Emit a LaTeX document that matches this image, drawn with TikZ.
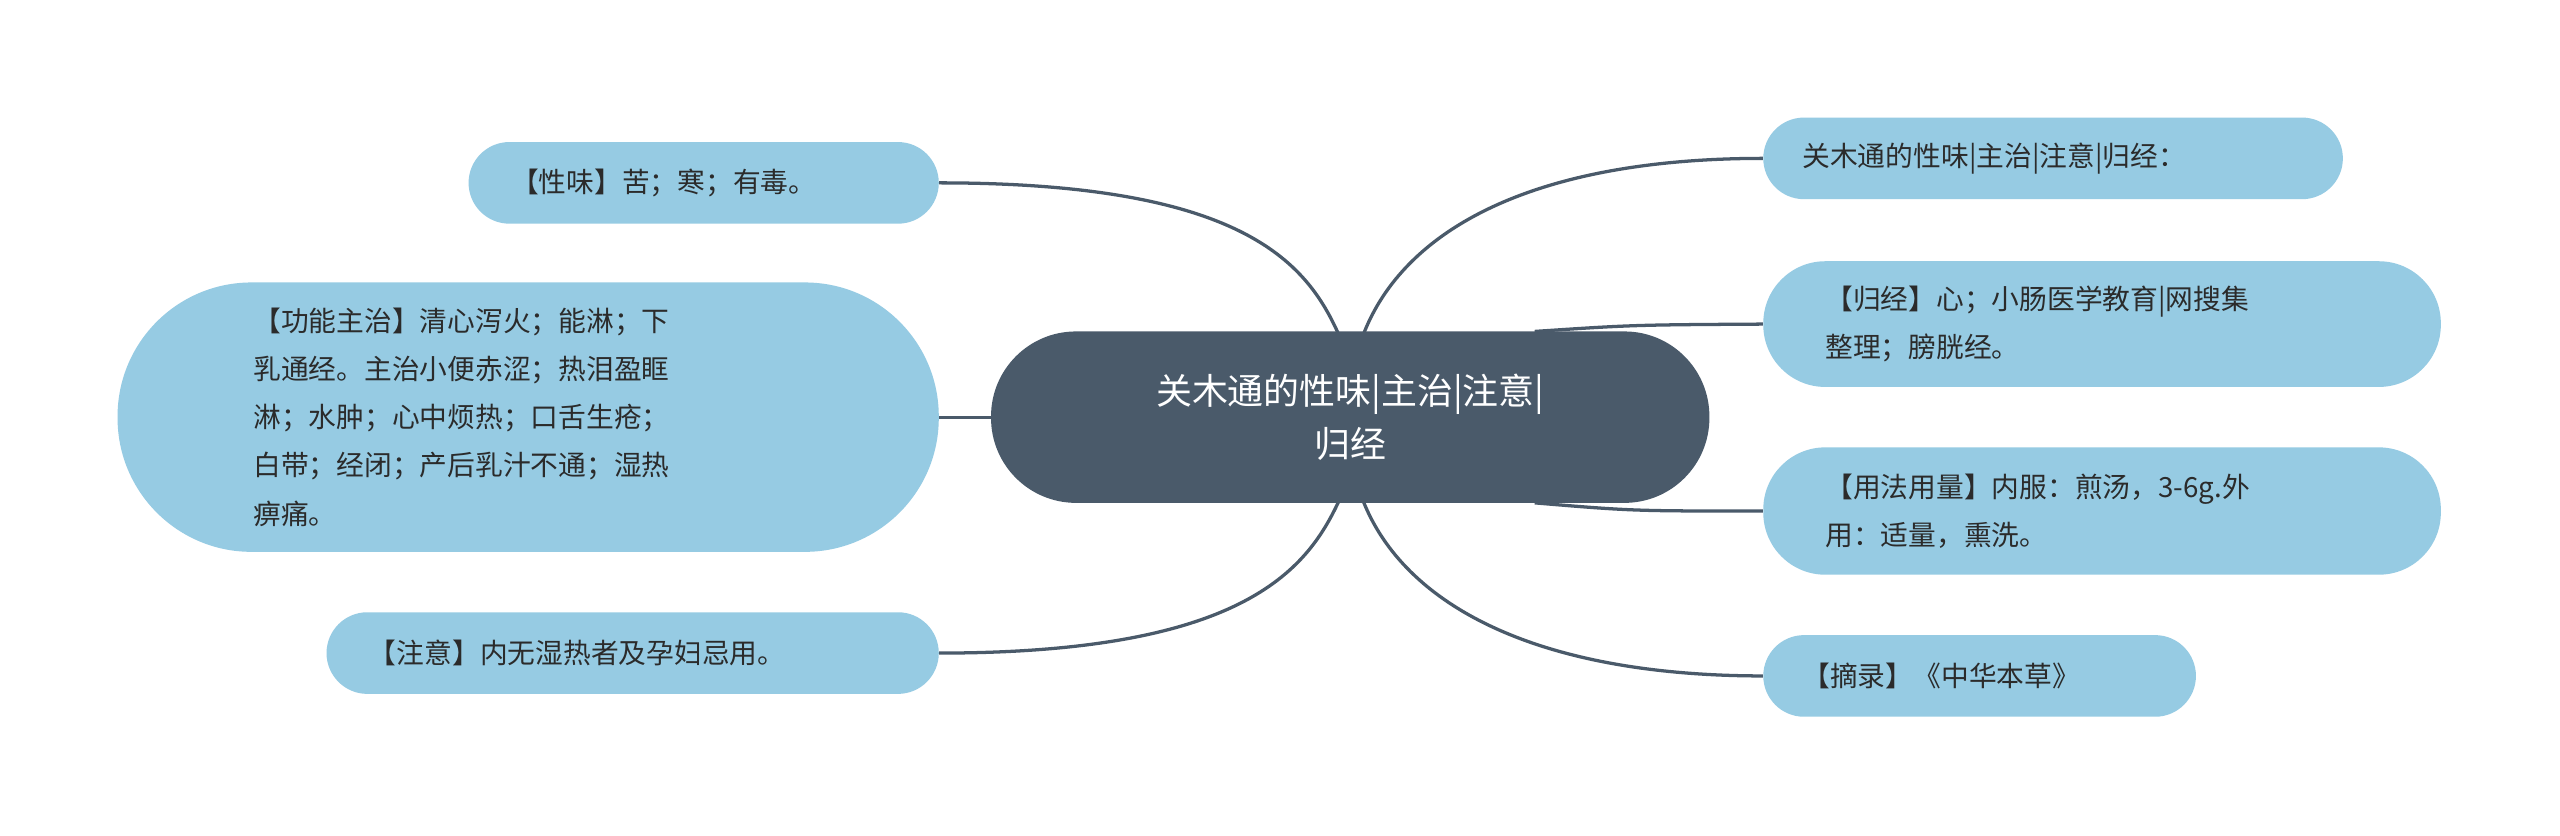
\documentclass[tikz,border=0pt]{standalone}
\usepackage{fontspec}
\setmainfont{Noto Sans CJK SC}
\definecolor{dark}{HTML}{4A5A6A}
\definecolor{leaf}{HTML}{96CBE3}
\definecolor{txt}{HTML}{2B2B2B}
\begin{document}
\begin{tikzpicture}[x=1pt,y=-1pt,
  box/.style={fill=leaf,draw=none,inner sep=0pt},
  lbl/.style={anchor=west,inner sep=0pt,text=txt,font=\fontsize{17}{29.5}\selectfont,align=left},
  link/.style={draw=dark,line width=2pt}]
\useasboundingbox[fill=white] (0,0) rectangle (1568,512);
% center
\node[fill=dark,rounded corners=52pt,minimum width=440pt,minimum height=105pt,inner sep=0pt,text=white,align=center,font=\fontsize{22}{32}\selectfont] (c) at (827,255.5) {关木通的性味|主治|注意|\\归经};
\coordinate (ct1) at (820,205); \coordinate (ct2) at (835,205);
\coordinate (cb1) at (820,307); \coordinate (cb2) at (835,307);
\coordinate (cr1) at (940,203); \coordinate (cr2) at (940,308);
% left
\node[box,rounded corners=25pt,minimum width=288pt,minimum height=50pt] (l1) at (431,112) {};
\node[lbl] at (l1.west) [xshift=26pt] {【性味】苦；寒；有毒。};
\node[box,rounded corners=82pt,minimum width=503pt,minimum height=165pt] (l2) at (323.5,255.5) {};
\node[lbl] at (155,255.5) {【功能主治】清心泻火；能淋；下\\乳通经。主治小便赤涩；热泪盈眶\\淋；水肿；心中烦热；口舌生疮；\\白带；经闭；产后乳汁不通；湿热\\痹痛。};
\node[box,rounded corners=25pt,minimum width=375pt,minimum height=50pt] (l3) at (387.5,400) {};
\node[lbl] at (l3.west) [xshift=26pt] {【注意】内无湿热者及孕妇忌用。};
% right
\node[box,rounded corners=25pt,minimum width=355pt,minimum height=50pt] (r1) at (1257.5,97) {};
\node[lbl] at (r1.west) [xshift=24pt] {关木通的性味|主治|注意|归经：};
\node[box,rounded corners=38pt,minimum width=415pt,minimum height=77pt] (r2) at (1287.5,198.5) {};
\node[lbl] at (r2.west) [xshift=38pt] {【归经】心；小肠医学教育|网搜集\\整理；膀胱经。};
\node[box,rounded corners=38pt,minimum width=415pt,minimum height=78pt] (r3) at (1287.5,313) {};
\node[lbl] at (r3.west) [xshift=38pt] {【用法用量】内服：煎汤，3-6g.外\\用：适量，熏洗。};
\node[box,rounded corners=25pt,minimum width=265pt,minimum height=50pt] (r4) at (1212.5,414) {};
\node[lbl] at (r4.west) [xshift=24pt] {【摘录】《中华本草》};
% links
\draw[link] (l1.east) .. controls (760,112) and (800,160) .. (ct1);
\draw[link] (l2.east) -- (c.west);
\draw[link] (l3.east) .. controls (760,400) and (800,350) .. (cb1);
\draw[link] (ct2) .. controls (860,140) and (940,97) .. (r1.west);
\draw[link] (cr1) .. controls (1000,199) .. (r2.west);
\draw[link] (cr2) .. controls (1000,313) .. (r3.west);
\draw[link] (cb2) .. controls (860,370) and (940,414) .. (r4.west);
\end{tikzpicture}
\end{document}
